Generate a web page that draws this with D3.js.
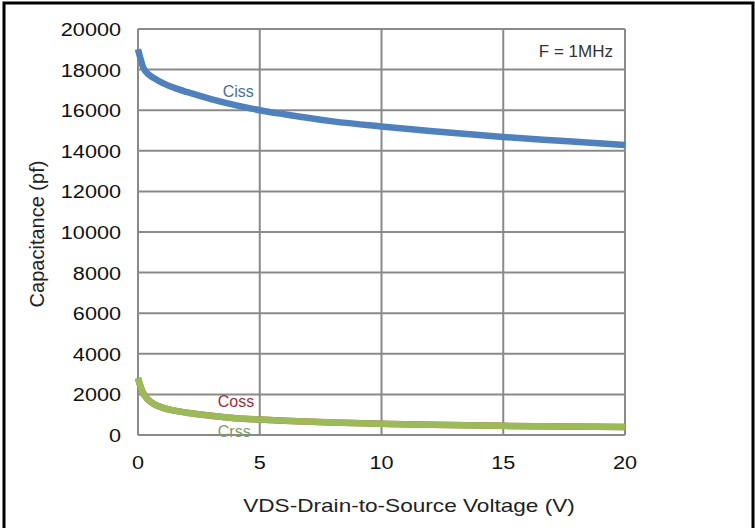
<!DOCTYPE html>
<meta charset="utf-8" />
<script src="https://d3js.org/d3.v7.min.js"></script>
<style>
  body { margin: 0; background: #fff; }
  text { font-family: "Liberation Sans", Arial, sans-serif; }
</style>
<svg id="chart" width="755" height="528"></svg>
<script>
  // data
  var volts = [0, 0.1, 0.2, 0.4, 0.7, 1, 1.5, 2, 3, 4, 5, 6, 8, 10, 12, 15, 17.5, 20];
  var ciss = [19000, 18550, 18150, 17800, 17550, 17350, 17100, 16900, 16550, 16250, 16000, 15800, 15450, 15200, 14980, 14680, 14480, 14280];
  var coss = [2800, 2400, 2100, 1750, 1500, 1350, 1200, 1100, 950, 830, 760, 700, 610, 550, 500, 450, 420, 390];
  var crss = [2800, 2400, 2100, 1750, 1500, 1350, 1200, 1100, 950, 830, 760, 700, 610, 550, 500, 450, 420, 390];
  var xTicks = [0, 5, 10, 15, 20];
  var yTicks = [0, 2000, 4000, 6000, 8000, 10000, 12000, 14000, 16000, 18000, 20000];

  var svg = d3.select("#chart");
  var stretch = 1.14; // the source image is a bit wide

  // outer frame (top, left, right)
  svg.append("path")
    .attr("d", "M4,528V3H753V528")
    .attr("fill", "none")
    .attr("stroke", "#000")
    .attr("stroke-width", 3);

  var x = d3.scaleLinear().domain([0, 20]).range([138, 625]);
  var y = d3.scaleLinear().domain([0, 20000]).range([435, 29]);

  // grid
  var grid = svg.append("g").attr("stroke", "#8a8a8a").attr("stroke-width", 2);
  grid.selectAll("line.h").data(yTicks).enter().append("line")
    .attr("x1", x(0)).attr("x2", x(20))
    .attr("y1", function(d) { return y(d); })
    .attr("y2", function(d) { return y(d); });
  grid.selectAll("line.v").data(xTicks).enter().append("line")
    .attr("y1", y(0)).attr("y2", y(20000))
    .attr("x1", function(d) { return x(d); })
    .attr("x2", function(d) { return x(d); });

  // tick labels
  svg.selectAll("text.yt").data(yTicks).enter().append("text")
    .attr("transform", function(d) { return "translate(121," + (y(d) + 7) + ") scale(" + stretch + ",1)"; })
    .attr("text-anchor", "end")
    .attr("font-size", 19)
    .attr("fill", "#111")
    .text(function(d) { return d; });
  svg.selectAll("text.xt").data(xTicks).enter().append("text")
    .attr("transform", function(d) { return "translate(" + x(d) + ",469) scale(" + stretch + ",1)"; })
    .attr("text-anchor", "middle")
    .attr("font-size", 19)
    .attr("fill", "#111")
    .text(function(d) { return d; });

  // axis titles
  svg.append("text")
    .attr("transform", "translate(409,512) scale(1.19,1)")
    .attr("text-anchor", "middle")
    .attr("font-size", 19).attr("fill", "#222")
    .text("VDS-Drain-to-Source Voltage (V)");
  svg.append("text")
    .attr("transform", "translate(44,234) rotate(-90)")
    .attr("text-anchor", "middle")
    .attr("font-size", 20).attr("fill", "#222")
    .text("Capacitance (pf)");

  // curves
  var series = [
    { name: "Coss", values: coss, color: "#c0504d" },
    { name: "Crss", values: crss, color: "#9bbb59" },
    { name: "Ciss", values: ciss, color: "#4f81bd" }
  ];
  var line = d3.line()
    .x(function(d, i) { return x(volts[i]); })
    .y(function(d) { return y(d); })
    .curve(d3.curveMonotoneX);
  svg.selectAll("path.curve").data(series).enter().append("path")
    .attr("fill", "none")
    .attr("stroke", function(d) { return d.color; })
    .attr("stroke-width", 6.5)
    .attr("d", function(d) { return line(d.values); });

  // curve labels
  var labels = [
    { t: "Ciss", v: 5, c: 16650, color: "#4a6d95", dx: -37 },
    { t: "Coss", v: 5, c: 1400, color: "#9b2d3a", dx: -42 },
    { t: "Crss", v: 5, c: -100, color: "#7f9a6a", dx: -42 }
  ];
  svg.selectAll("text.lab").data(labels).enter().append("text")
    .attr("x", function(d) { return x(d.v) + d.dx; })
    .attr("y", function(d) { return y(d.c); })
    .attr("font-family", "'Open Sans', sans-serif")
    .attr("font-size", 16)
    .attr("fill", function(d) { return d.color; })
    .text(function(d) { return d.t; });

  svg.append("text")
    .attr("x", 613).attr("y", 57)
    .attr("text-anchor", "end")
    .attr("font-family", "'Open Sans', sans-serif")
    .attr("font-size", 17)
    .attr("fill", "#333")
    .text("F = 1MHz");
</script>
